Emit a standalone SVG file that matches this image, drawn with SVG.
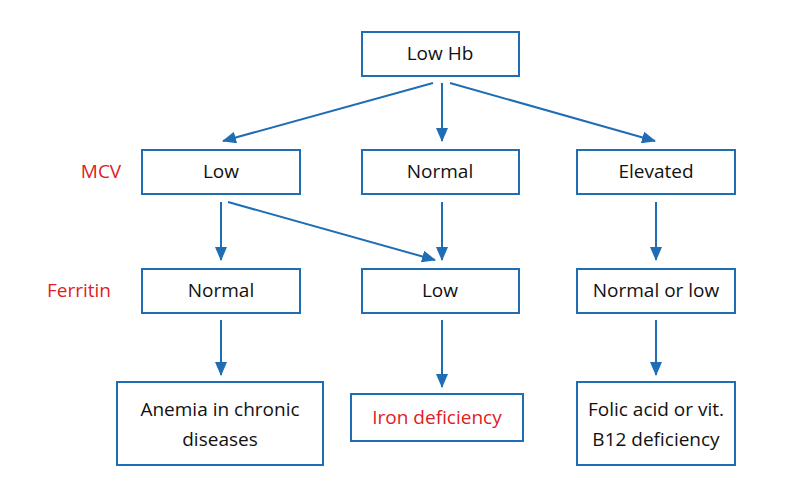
<svg xmlns="http://www.w3.org/2000/svg" width="805" height="485" viewBox="0 0 805 485">
<style>
rect{fill:#fff;stroke:#1f6db5;stroke-width:2}
text{font-family:"Open Sans","Liberation Sans",sans-serif;font-size:19px;text-anchor:middle;fill:#111}
.r{fill:#e0201f}
line{stroke:#1f6db5;stroke-width:2;marker-end:url(#a)}
</style>
<defs><marker id="a" markerWidth="14" markerHeight="12" refX="13" refY="6" orient="auto" markerUnits="userSpaceOnUse" viewBox="0 0 14 12"><path d="M0,0L14,6L0,12Z" fill="#1f6db5"/></marker></defs>
<g id="connectors">
<line x1="433" y1="83" x2="223" y2="141"/>
<line x1="442" y1="83" x2="442" y2="141"/>
<line x1="450" y1="83" x2="655" y2="141"/>
<line x1="221" y1="202" x2="221" y2="260"/>
<line x1="228" y1="202" x2="435" y2="260"/>
<line x1="442" y1="202" x2="442" y2="260"/>
<line x1="656" y1="202" x2="656" y2="260"/>
<line x1="221" y1="320" x2="221" y2="375"/>
<line x1="442" y1="320" x2="442" y2="387"/>
<line x1="656" y1="320" x2="656" y2="375"/>
</g>
<g id="lowhb"><rect x="362" y="32" width="157" height="44"/><text x="440" y="60">Low Hb</text></g>
<text class="r" x="101" y="178">MCV</text>
<text class="r" x="79" y="297">Ferritin</text>
<g id="mcvlow"><rect x="142" y="150" width="158" height="44"/><text x="221" y="178">Low</text></g>
<g id="mcvnormal"><rect x="362" y="150" width="157" height="44"/><text x="440" y="178">Normal</text></g>
<g id="mcvelev"><rect x="577" y="150" width="158" height="44"/><text x="656" y="178">Elevated</text></g>
<g id="fernormal"><rect x="142" y="269" width="158" height="44"/><text x="221" y="297">Normal</text></g>
<g id="ferlow"><rect x="362" y="269" width="157" height="44"/><text x="440" y="297">Low</text></g>
<g id="fernl"><rect x="577" y="269" width="158" height="44"/><text x="656" y="297">Normal or low</text></g>
<g id="anemia"><rect x="117" y="382" width="206" height="83"/><text x="220" y="416">Anemia in chronic</text><text x="220" y="446">diseases</text></g>
<g id="iron"><rect x="351" y="394" width="172" height="47"/><text class="r" x="437" y="424">Iron deficiency</text></g>
<g id="folic"><rect x="577" y="382" width="158" height="83"/><text x="656" y="416">Folic acid or vit.</text><text x="656" y="446">B12 deficiency</text></g>
</svg>
